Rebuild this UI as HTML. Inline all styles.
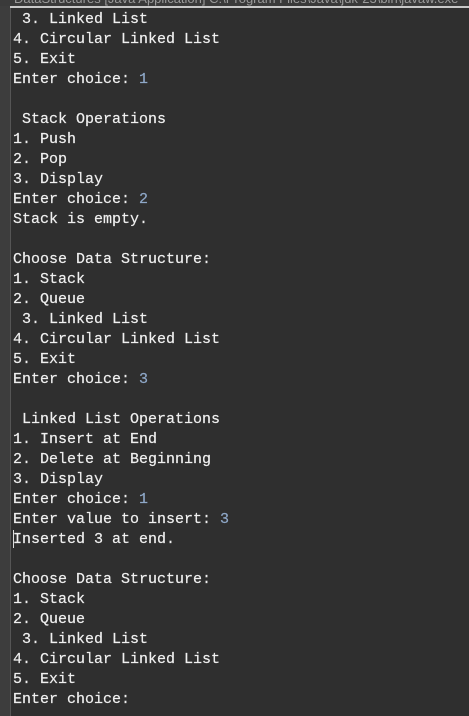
<!DOCTYPE html>
<html><head><style>
html,body{margin:0;padding:0;width:469px;height:716px;overflow:hidden;background:#2f2f2f;}
.hdr{position:absolute;left:0;top:0;width:469px;height:6px;background:#3a3a3a;overflow:hidden;}
.hdr span{position:absolute;top:-9px;left:14px;font:13px "Liberation Sans",sans-serif;color:#9a9a9a;white-space:nowrap;}
.hl{position:absolute;left:10px;top:6px;width:459px;height:2px;background:#c8c8c8;}
.gut{position:absolute;left:0;top:6px;width:10px;height:710px;background:#3d3d3d;}
.gl{position:absolute;left:10px;top:8px;width:1px;height:708px;background:#555;}
pre{position:absolute;left:13px;top:10px;margin:0;font:15px/20px "Liberation Mono",monospace;color:#f0f0f0;-webkit-text-stroke:0.2px #f0f0f0;}
.u{color:#8fa8c8;-webkit-text-stroke:0.2px #8fa8c8;}
.cur{position:absolute;left:13px;top:530px;width:1px;height:18px;background:#ddd;}
</style></head><body>
<div class="hdr"><span>DataStructures [Java Application] C:\Program Files\Java\jdk-23\bin\javaw.exe</span></div>
<div class="gut"></div><div class="gl"></div><div class="hl"></div>
<pre> 3. Linked List
4. Circular Linked List
5. Exit
Enter choice: <span class="u">1</span>

 Stack Operations
1. Push
2. Pop
3. Display
Enter choice: <span class="u">2</span>
Stack is empty.

Choose Data Structure:
1. Stack
2. Queue
 3. Linked List
4. Circular Linked List
5. Exit
Enter choice: <span class="u">3</span>

 Linked List Operations
1. Insert at End
2. Delete at Beginning
3. Display
Enter choice: <span class="u">1</span>
Enter value to insert: <span class="u">3</span>
Inserted 3 at end.

Choose Data Structure:
1. Stack
2. Queue
 3. Linked List
4. Circular Linked List
5. Exit
Enter choice: </pre>
<div class="cur"></div>
</body></html>
